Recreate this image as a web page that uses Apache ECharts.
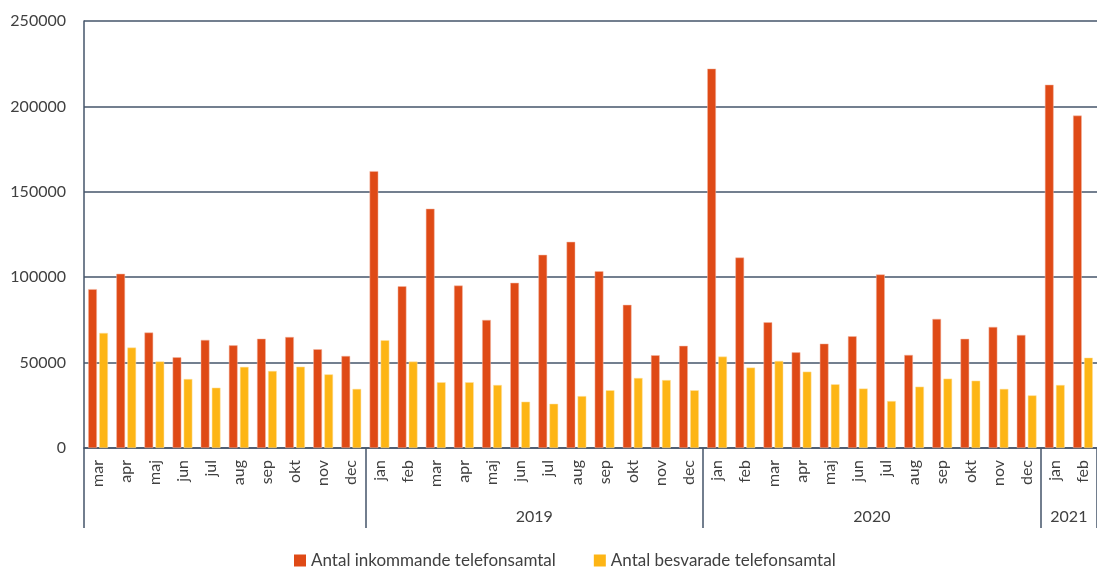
<!DOCTYPE html>
<html lang="sv">
  <head>
    <meta charset="UTF-8" />
    <title>Telefonsamtal</title>
    <script src="https://cdn.jsdelivr.net/npm/echarts@6/dist/echarts.min.js"></script>
    <style>
      html, body { margin: 0; padding: 0; background: #fff; }
    </style>
  </head>
  <body>
    <div id="chart" style="width: 1097px; height: 568px"></div>
    <script>
      // månader mar 2018 - feb 2021
      const months = [
        'mar', 'apr', 'maj', 'jun', 'jul', 'aug', 'sep', 'okt', 'nov', 'dec',
        'jan', 'feb', 'mar', 'apr', 'maj', 'jun', 'jul', 'aug', 'sep', 'okt', 'nov', 'dec',
        'jan', 'feb', 'mar', 'apr', 'maj', 'jun', 'jul', 'aug', 'sep', 'okt', 'nov', 'dec',
        'jan', 'feb'
      ];
      const incoming = [
        93000, 102000, 67600, 53100, 63300, 60100, 64000, 65000, 57800, 53900,
        162100, 94700, 140100, 95100, 75000, 96700, 113100, 120700, 103500, 83800, 54300, 59800,
        222100, 111500, 73600, 56000, 61100, 65400, 101600, 54500, 75600, 63900, 70900, 66200,
        212700, 194600
      ];
      const answered = [
        67400, 58800, 50700, 40400, 35300, 47500, 45100, 47600, 43100, 34600,
        63100, 50600, 38500, 38500, 36900, 27100, 25900, 30400, 33800, 41000, 39800, 33800,
        53500, 47100, 51000, 44700, 37300, 34800, 27500, 35900, 40600, 39400, 34600, 30800,
        36900, 52900
      ];
      // år: startindex i months, och etikett (2018 saknar etikett)
      const yearStarts = [0, 10, 22, 34, 36];
      const yearLabels = ['', '2019', '2020', '2021'];

      const font = 'Lato';
      const textColor = '#404040';
      const lineColor = '#44546A';

      const yearCenters = [];
      for (let i = 0; i < yearLabels.length; i++) {
        yearCenters.push((yearStarts[i] + yearStarts[i + 1]) / 2);
      }

      let myChart = echarts.init(document.getElementById('chart'));
      let option = {
        animation: false,
        textStyle: { fontFamily: font },
        grid: { left: 84, right: 0, top: 21, bottom: 120 },
        legend: {
          top: 547,
          left: 289,
          icon: 'rect',
          itemWidth: 12,
          itemHeight: 12,
          itemGap: 38,
          itemStyle: { borderWidth: 0 },
          textStyle: { fontFamily: font, fontSize: 17, color: textColor },
          data: ['Antal inkommande telefonsamtal', 'Antal besvarade telefonsamtal'],
        },
        xAxis: [
          {
            type: 'category',
            data: months,
            position: 'bottom',
            axisLine: { lineStyle: { color: lineColor, width: 1.5 } },
            axisTick: { show: false },
            axisLabel: {
              rotate: 90,
              margin: 12,
              interval: 0,
              fontSize: 16,
              fontFamily: font,
              color: textColor,
            },
          },
          {
            type: 'value',
            min: 0,
            max: months.length,
            position: 'bottom',
            gridIndex: 0,
            axisLine: { show: false },
            splitLine: { show: false },
            axisTick: {
              show: true,
              length: 80,
              customValues: yearStarts,
              lineStyle: { color: lineColor, width: 1.5 },
            },
            axisLabel: {
              customValues: yearCenters,
              margin: 61,
              fontSize: 16,
              fontFamily: font,
              color: textColor,
              formatter: function (val) {
                const i = yearCenters.indexOf(val);
                return i >= 0 ? yearLabels[i] : '';
              },
            },
          },
        ],
        yAxis: {
          type: 'value',
          min: 0,
          max: 250000,
          interval: 50000,
          axisLine: { show: true, lineStyle: { color: lineColor, width: 1.5 } },
          axisTick: { show: false },
          axisLabel: {
            margin: 18,
            fontSize: 16,
            fontFamily: font,
            color: textColor,
            formatter: function (val) {
              return String(val);
            },
          },
          splitLine: { lineStyle: { color: lineColor, width: 1.5 } },
        },
        series: [
          {
            name: 'Antal inkommande telefonsamtal',
            type: 'bar',
            xAxisIndex: 0,
            data: incoming,
            barWidth: 8.7,
            barGap: '27%',
            itemStyle: { color: '#DF4A16', borderColor: '#F3B9A4', borderWidth: 0.5 },
          },
          {
            name: 'Antal besvarade telefonsamtal',
            type: 'bar',
            xAxisIndex: 0,
            data: answered,
            barWidth: 8.7,
            barGap: '27%',
            itemStyle: { color: '#FDB515', borderColor: '#FEE2A6', borderWidth: 0.5 },
          },
        ],
      };
      myChart.setOption(option);
    </script>
  </body>
</html>
